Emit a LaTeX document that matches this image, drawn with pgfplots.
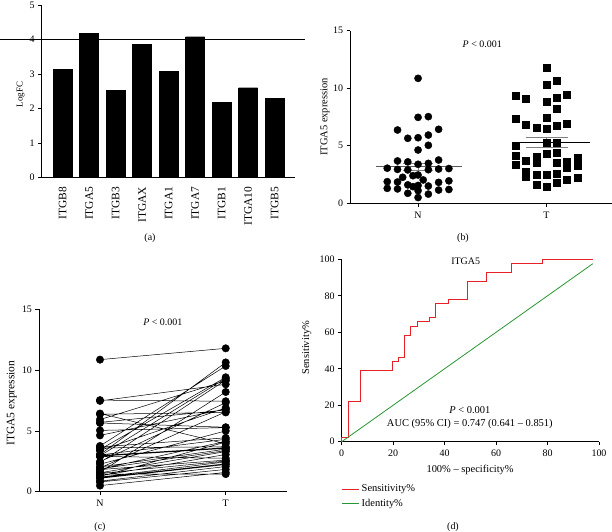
\documentclass[border=0pt]{standalone}
\usepackage{fontspec}
\setmainfont{Liberation Serif}
\usepackage{pgfplots}
\pgfplotsset{compat=1.18}

\definecolor{rocred}{RGB}{232,32,40}
\definecolor{rocgreen}{RGB}{40,150,50}

\pgfplotsset{
  panel/.style={
    scale only axis, anchor=south west, clip=false,
    axis lines*=left, axis line style={-, line width=0.6bp},
    tick align=outside, major tick length=3.5bp,
    tick style={black, line width=0.6bp},
    /pgf/number format/assume math mode=true,
    tick label style={font=\fontsize{10}{12}\selectfont},
    xticklabel style={yshift=-1.5bp},
    label style={font=\fontsize{10.5}{12}\selectfont},
    ylabel style={anchor=center},
    xlabel style={anchor=center},
  },
}

\begin{document}
\begin{tikzpicture}
\path[use as bounding box] (0bp,0bp) rectangle (612bp,532bp);

% (a) logFC of integrin genes
\begin{axis}[panel, at={(41.7bp,354.7bp)}, width=253.3bp, height=172.3bp,
  xmin=-0.79, xmax=8.77, ymin=0, ymax=5, ytick={0,1,2,3,4,5},
  xtick={0,...,8},
  xticklabels={ITGB8,ITGA5,ITGB3,ITGAX,ITGA1,ITGA7,ITGB1,ITGA10,ITGB5},
  x tick label style={rotate=90, anchor=east, yshift=0bp, xshift=-1bp,
    font=\fontsize{11.5}{12}\selectfont},
  x tick style={draw=none},
  ylabel={LogFC},
  ylabel style={at={(axis description cs:-0.083,0.48)}, font=\fontsize{9}{10}\selectfont},
]
\addplot[ybar, bar shift=0pt, bar width=19bp, fill=black, draw=black] coordinates {
  (0,3.13) (1,4.18) (2,2.53) (3,3.85) (4,3.08)
  (5,4.08) (6,2.18) (7,2.60) (8,2.29)
};
% threshold line
\addplot[black, line width=0.7bp] coordinates {(-2.37,4) (9.14,4)};
\end{axis}

% (b) scatter N vs T
\begin{axis}[panel, at={(350bp,328.7bp)}, width=262bp, height=172.6bp,
  xmin=-0.53, xmax=1.51, ymin=0, ymax=15, ytick={0,5,10,15},
  xtick={0,1}, xticklabels={N,T},
  ylabel={ITGA5 expression},
  ylabel style={at={(axis description cs:-0.095,0.5)}},
]
\addplot[only marks, mark=*, mark size=3.6bp, black] coordinates {
  (0.00,10.86) (0.00,7.47) (0.08,7.53) (-0.16,6.37) (0.16,6.43)
  (-0.08,5.65) (0.00,5.70) (0.08,5.93) (0.00,4.63) (0.08,5.04)
  (0.16,3.76) (-0.16,3.68) (-0.08,3.60) (0.08,3.47) (0.00,3.39)
  (-0.24,3.05) (0.24,3.02) (0.16,2.98) (-0.16,2.95) (0.08,2.92) (-0.08,2.90)
  (0.00,2.46) (-0.04,2.40) (-0.12,2.26) (0.04,2.03) (0.24,1.95)
  (-0.24,1.88) (-0.16,1.85) (0.16,1.82) (-0.08,1.60) (0.00,1.55) (0.08,1.50)
  (-0.04,1.45) (-0.24,1.30) (-0.16,1.25) (0.24,1.20) (0.16,1.15) (0.00,1.10)
  (-0.08,0.87) (0.08,0.80) (0.00,0.50)
};
\addplot[only marks, mark=square*, mark size=3.5bp, black] coordinates {
  (1.00,11.79) (1.08,10.63) (1.00,10.34)
  (1.16,9.41) (0.76,9.32) (1.08,9.18) (0.84,9.12) (1.00,8.83) (1.08,8.20)
  (1.00,7.44) (0.76,7.32)
  (1.16,6.89) (0.84,6.81) (1.08,6.72) (0.92,6.57) (1.00,6.52)
  (1.00,5.30) (1.08,5.27) (0.76,5.00)
  (1.08,4.43) (1.00,4.31) (0.76,4.14) (0.92,4.08) (1.24,3.94)
  (0.84,3.70) (1.16,3.62) (0.92,3.56) (1.08,3.50) (0.76,3.38) (1.24,3.30) (1.16,3.06)
  (0.84,2.75) (1.08,2.60) (0.92,2.52) (1.00,2.45) (0.84,2.30) (1.24,2.23)
  (1.16,2.07) (1.08,1.83) (0.92,1.59) (1.00,1.45)
};
% mean and SEM
\addplot[gray!70!black, line width=0.8bp] coordinates {(-0.33,3.18) (0.34,3.18)};
\addplot[gray, line width=0.8bp] coordinates {(-0.12,3.51) (0.12,3.51)};
\addplot[gray, line width=0.8bp] coordinates {(-0.12,2.85) (0.12,2.85)};
\addplot[gray, line width=0.8bp] coordinates {(0,2.85) (0,3.51)};
\addplot[black, line width=0.8bp] coordinates {(0.74,5.30) (1.34,5.30)};
\addplot[gray, line width=0.8bp] coordinates {(0.84,5.76) (1.17,5.76)};
\addplot[gray, line width=0.8bp] coordinates {(0.84,4.86) (1.17,4.86)};
\addplot[gray, line width=0.8bp] coordinates {(1,4.86) (1,5.76)};
\node[font=\fontsize{10}{12}\selectfont] at (axis cs:0.5,13.8) {\textit{P} < 0.001};
\end{axis}

% (c) paired N-T
\begin{axis}[panel, at={(39bp,40.3bp)}, width=247.7bp, height=182.4bp,
  xmin=-0.485, xmax=1.485, ymin=0, ymax=15, ytick={0,5,10,15},
  xtick={0,1}, xticklabels={N,T},
  ylabel={ITGA5 expression},
  ylabel style={at={(axis description cs:-0.11,0.485)}, font=\fontsize{11.5}{12}\selectfont},
  unbounded coords=jump,
]
\addplot[black, line width=0.5bp, mark=*, mark size=3.7bp] coordinates {
  (0,10.86) (1,11.79) (0,nan)
  (0,7.53) (1,7.44) (0,nan)
  (0,7.47) (1,8.83) (0,nan)
  (0,6.43) (1,3.94) (0,nan)
  (0,6.37) (1,6.52) (0,nan)
  (0,5.93) (1,9.12) (0,nan)
  (0,5.70) (1,6.72) (0,nan)
  (0,5.65) (1,5.30) (0,nan)
  (0,5.04) (1,5.27) (0,nan)
  (0,4.63) (1,6.81) (0,nan)
  (0,3.76) (1,10.34) (0,nan)
  (0,3.68) (1,4.43) (0,nan)
  (0,3.60) (1,3.70) (0,nan)
  (0,3.47) (1,9.41) (0,nan)
  (0,2.92) (1,3.56) (0,nan)
  (0,3.39) (1,6.89) (0,nan)
  (0,3.05) (1,10.63) (0,nan)
  (0,3.02) (1,4.31) (0,nan)
  (0,2.98) (1,3.62) (0,nan)
  (0,2.95) (1,9.32) (0,nan)
  (0,2.90) (1,2.75) (0,nan)
  (0,2.46) (1,7.32) (0,nan)
  (0,2.40) (1,9.18) (0,nan)
  (0,2.26) (1,5.00) (0,nan)
  (0,2.03) (1,3.50) (0,nan)
  (0,1.95) (1,6.57) (0,nan)
  (0,1.88) (1,3.38) (0,nan)
  (0,1.85) (1,4.14) (0,nan)
  (0,1.82) (1,2.60) (0,nan)
  (0,1.60) (1,8.20) (0,nan)
  (0,1.55) (1,3.30) (0,nan)
  (0,1.50) (1,2.52) (0,nan)
  (0,1.45) (1,1.45) (0,nan)
  (0,1.30) (1,3.06) (0,nan)
  (0,1.25) (1,4.08) (0,nan)
  (0,1.20) (1,2.45) (0,nan)
  (0,1.15) (1,2.30) (0,nan)
  (0,1.10) (1,2.23) (0,nan)
  (0,0.87) (1,2.07) (0,nan)
  (0,0.80) (1,1.83) (0,nan)
  (0,0.50) (1,1.59)
};
\node[font=\fontsize{10}{12}\selectfont] at (axis cs:0.5,13.9) {\textit{P} < 0.001};
\end{axis}

% (d) ROC curve
\begin{axis}[panel, at={(341.7bp,90.3bp)}, width=257.3bp, height=182.4bp,
  xmin=0, xmax=100, ymin=0, ymax=100,
  xtick={0,20,...,100}, ytick={0,20,...,100},
  xlabel={100\% -- specificity\%},
  xlabel style={at={(axis description cs:0.499,-0.155)}},
  ylabel={Sensitivity\%},
  ylabel style={at={(axis description cs:-0.136,0.515)}},
  legend style={at={(axis description cs:0.0,-0.225)}, anchor=north west,
    draw=none, fill=none, font=\fontsize{10.5}{12}\selectfont,
    row sep=2bp, inner sep=0bp},
  legend cell align=left,
  legend image code/.code={\draw[#1] (0bp,0bp) -- (17bp,0bp);},
]
\addplot[rocred, line width=0.8bp] coordinates {
  (0,0) (0,2.44) (2.44,2.44) (2.44,21.95) (7.32,21.95) (7.32,39.02)
  (19.51,39.02) (19.51,43.90) (21.95,43.90) (21.95,46.34) (24.39,46.34)
  (24.39,58.54) (26.83,58.54) (26.83,63.41) (29.27,63.41) (29.27,65.85)
  (34.15,65.85) (34.15,68.29) (36.59,68.29) (36.59,75.61) (41.46,75.61)
  (41.46,78.05) (48.78,78.05) (48.78,87.80) (56.10,87.80) (56.10,92.68)
  (65.85,92.68) (65.85,97.56) (78.05,97.56) (78.05,100) (97.56,100)
};
\addlegendentry{Sensitivity\%}
\addplot[rocgreen, line width=0.8bp] coordinates {(0,0) (97.56,97.56)};
\addlegendentry{Identity\%}
\node[font=\fontsize{10}{12}\selectfont] at (axis cs:48.2,98.8) {ITGA5};
\node[font=\fontsize{10.5}{12}\selectfont] at (axis cs:49.8,17.4) {\textit{P} < 0.001};
\node[font=\fontsize{10.5}{12}\selectfont] at (axis cs:49.8,9.7) {AUC (95\% CI) = 0.747 (0.641 -- 0.851)};
\end{axis}

% panel letters
\node[font=\fontsize{10}{12}\selectfont] at (150bp,294bp) {(a)};
\node[font=\fontsize{10}{12}\selectfont] at (463bp,294bp) {(b)};
\node[font=\fontsize{10}{12}\selectfont] at (100bp,5.3bp) {(c)};
\node[font=\fontsize{10}{12}\selectfont] at (453bp,5.3bp) {(d)};
\end{tikzpicture}
\end{document}
